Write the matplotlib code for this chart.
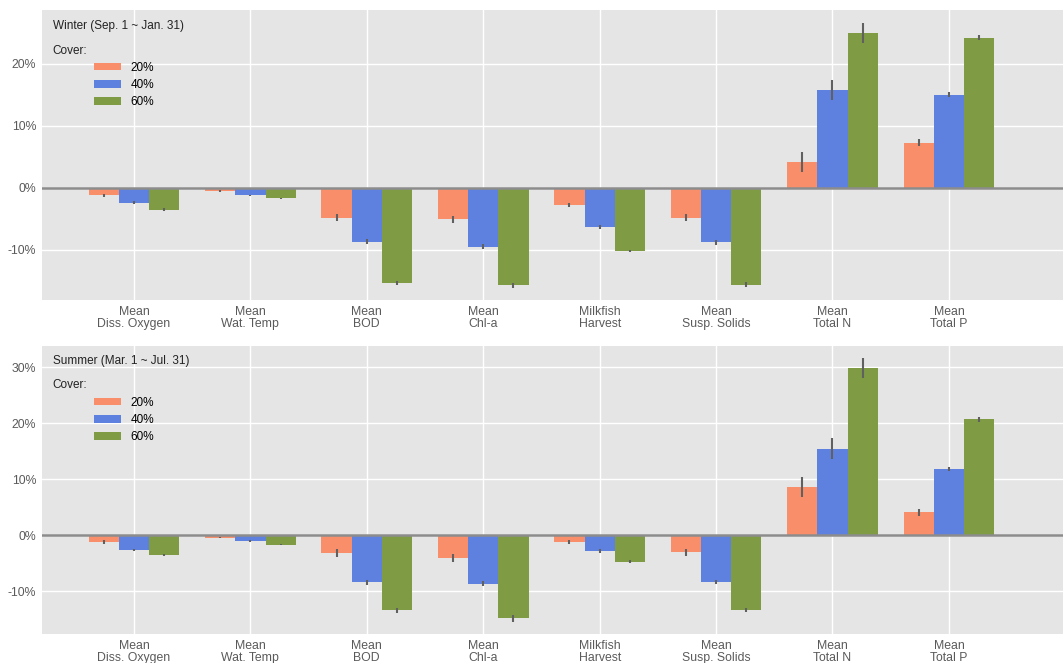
import numpy as np
import matplotlib
matplotlib.use("Agg")
import matplotlib.pyplot as plt
from matplotlib.patches import Patch

plt.rcParams['font.family'] = ['Liberation Sans', 'DejaVu Sans']

categories = ["Mean\nDiss. Oxygen", "Mean\nWat. Temp", "Mean\nBOD", "Mean\nChl-a",
              "Milkfish\nHarvest", "Mean\nSusp. Solids", "Mean\nTotal N", "Mean\nTotal P"]
covers = ["20%", "40%", "60%"]

# winter values (% change) and error half-widths
winter_20 = [-1.2, -0.5, -4.8, -5.1, -2.8, -4.8, 4.2, 7.3]
winter_40 = [-2.4, -1.2, -8.7, -9.5, -6.3, -8.8, 15.8, 15.0]
winter_60 = [-3.5, -1.7, -15.4, -15.7, -10.2, -15.6, 25.0, 24.2]
winter_20_err = [0.2, 0.1, 0.5, 0.5, 0.3, 0.5, 1.6, 0.5]
winter_40_err = [0.2, 0.1, 0.4, 0.4, 0.3, 0.4, 1.6, 0.4]
winter_60_err = [0.2, 0.1, 0.3, 0.4, 0.2, 0.4, 1.6, 0.4]

# summer
summer_20 = [-1.2, -0.4, -3.2, -4.0, -1.2, -3.0, 8.6, 4.1]
summer_40 = [-2.6, -1.0, -8.4, -8.6, -2.8, -8.3, 15.5, 11.8]
summer_60 = [-3.5, -1.7, -13.4, -14.8, -4.7, -13.3, 29.8, 20.7]
summer_20_err = [0.3, 0.1, 0.7, 0.7, 0.3, 0.6, 1.8, 0.6]
summer_40_err = [0.2, 0.1, 0.4, 0.5, 0.3, 0.4, 1.8, 0.4]
summer_60_err = [0.2, 0.1, 0.4, 0.6, 0.3, 0.4, 1.8, 0.4]

colors = ["#F98F6A", "#5E81E0", "#7F9C44"]

fig = plt.figure(figsize=(10.63, 6.63), dpi=100)
ax1 = fig.add_axes([0.0395, 0.5475, 0.9605, 0.4375])
ax2 = fig.add_axes([0.0395, 0.0437, 0.9605, 0.4345])

x = np.arange(len(categories))
w = 0.26


def draw(ax, vals, errs, title, ylim, yticks, title_y, cover_y, leg_y):
    ax.set_facecolor("#E5E5E5")
    ax.set_axisbelow(True)
    ax.grid(True, color="white", linewidth=1.0)
    for i, (v, e) in enumerate(zip(vals, errs)):
        ax.bar(x + (i - 1) * w, v, w, color=colors[i], zorder=2)
        ax.errorbar(x + (i - 1) * w, v, yerr=e, fmt="none", ecolor="#606060",
                    elinewidth=1.5, capsize=0, zorder=3)
    ax.axhline(0, color="#8C8C8C", linewidth=1.8, zorder=4)
    ax.set_xlim(-0.79, 7.98)
    ax.set_ylim(*ylim)
    ax.set_yticks(yticks)
    ax.set_yticklabels(["{}%".format(t) for t in yticks])
    ax.set_xticks(x)
    ax.set_xticklabels(categories, linespacing=1.05)
    ax.tick_params(length=0, labelsize=8.8, colors="#5A5A5A", pad=4)
    for s in ax.spines.values():
        s.set_visible(False)
    ax.text(0.0105, title_y, title, transform=ax.transAxes, fontsize=8.5,
            va="top", ha="left", color="#222222")
    ax.text(0.0105, cover_y, "Cover:", transform=ax.transAxes,
            fontsize=8.5, va="top", ha="left", color="#222222")
    handles = [Patch(facecolor=c, edgecolor="none") for c in colors]
    ax.legend(handles, covers, loc="upper left", bbox_to_anchor=(0.046, leg_y),
              frameon=False, fontsize=8.5, handlelength=2.3, handleheight=0.6,
              labelspacing=0.45, handletextpad=0.8, borderaxespad=0)


draw(ax1, [winter_20, winter_40, winter_60], [winter_20_err, winter_40_err, winter_60_err],
     "Winter (Sep. 1 ~ Jan. 31)", (-18.1, 28.7), [-10, 0, 10, 20], 0.965, 0.88, 0.838)
draw(ax2, [summer_20, summer_40, summer_60], [summer_20_err, summer_40_err, summer_60_err],
     "Summer (Mar. 1 ~ Jul. 31)", (-17.6, 33.8), [-10, 0, 10, 20, 30], 0.97, 0.885, 0.84)

fig.savefig("out.png", dpi=100)
